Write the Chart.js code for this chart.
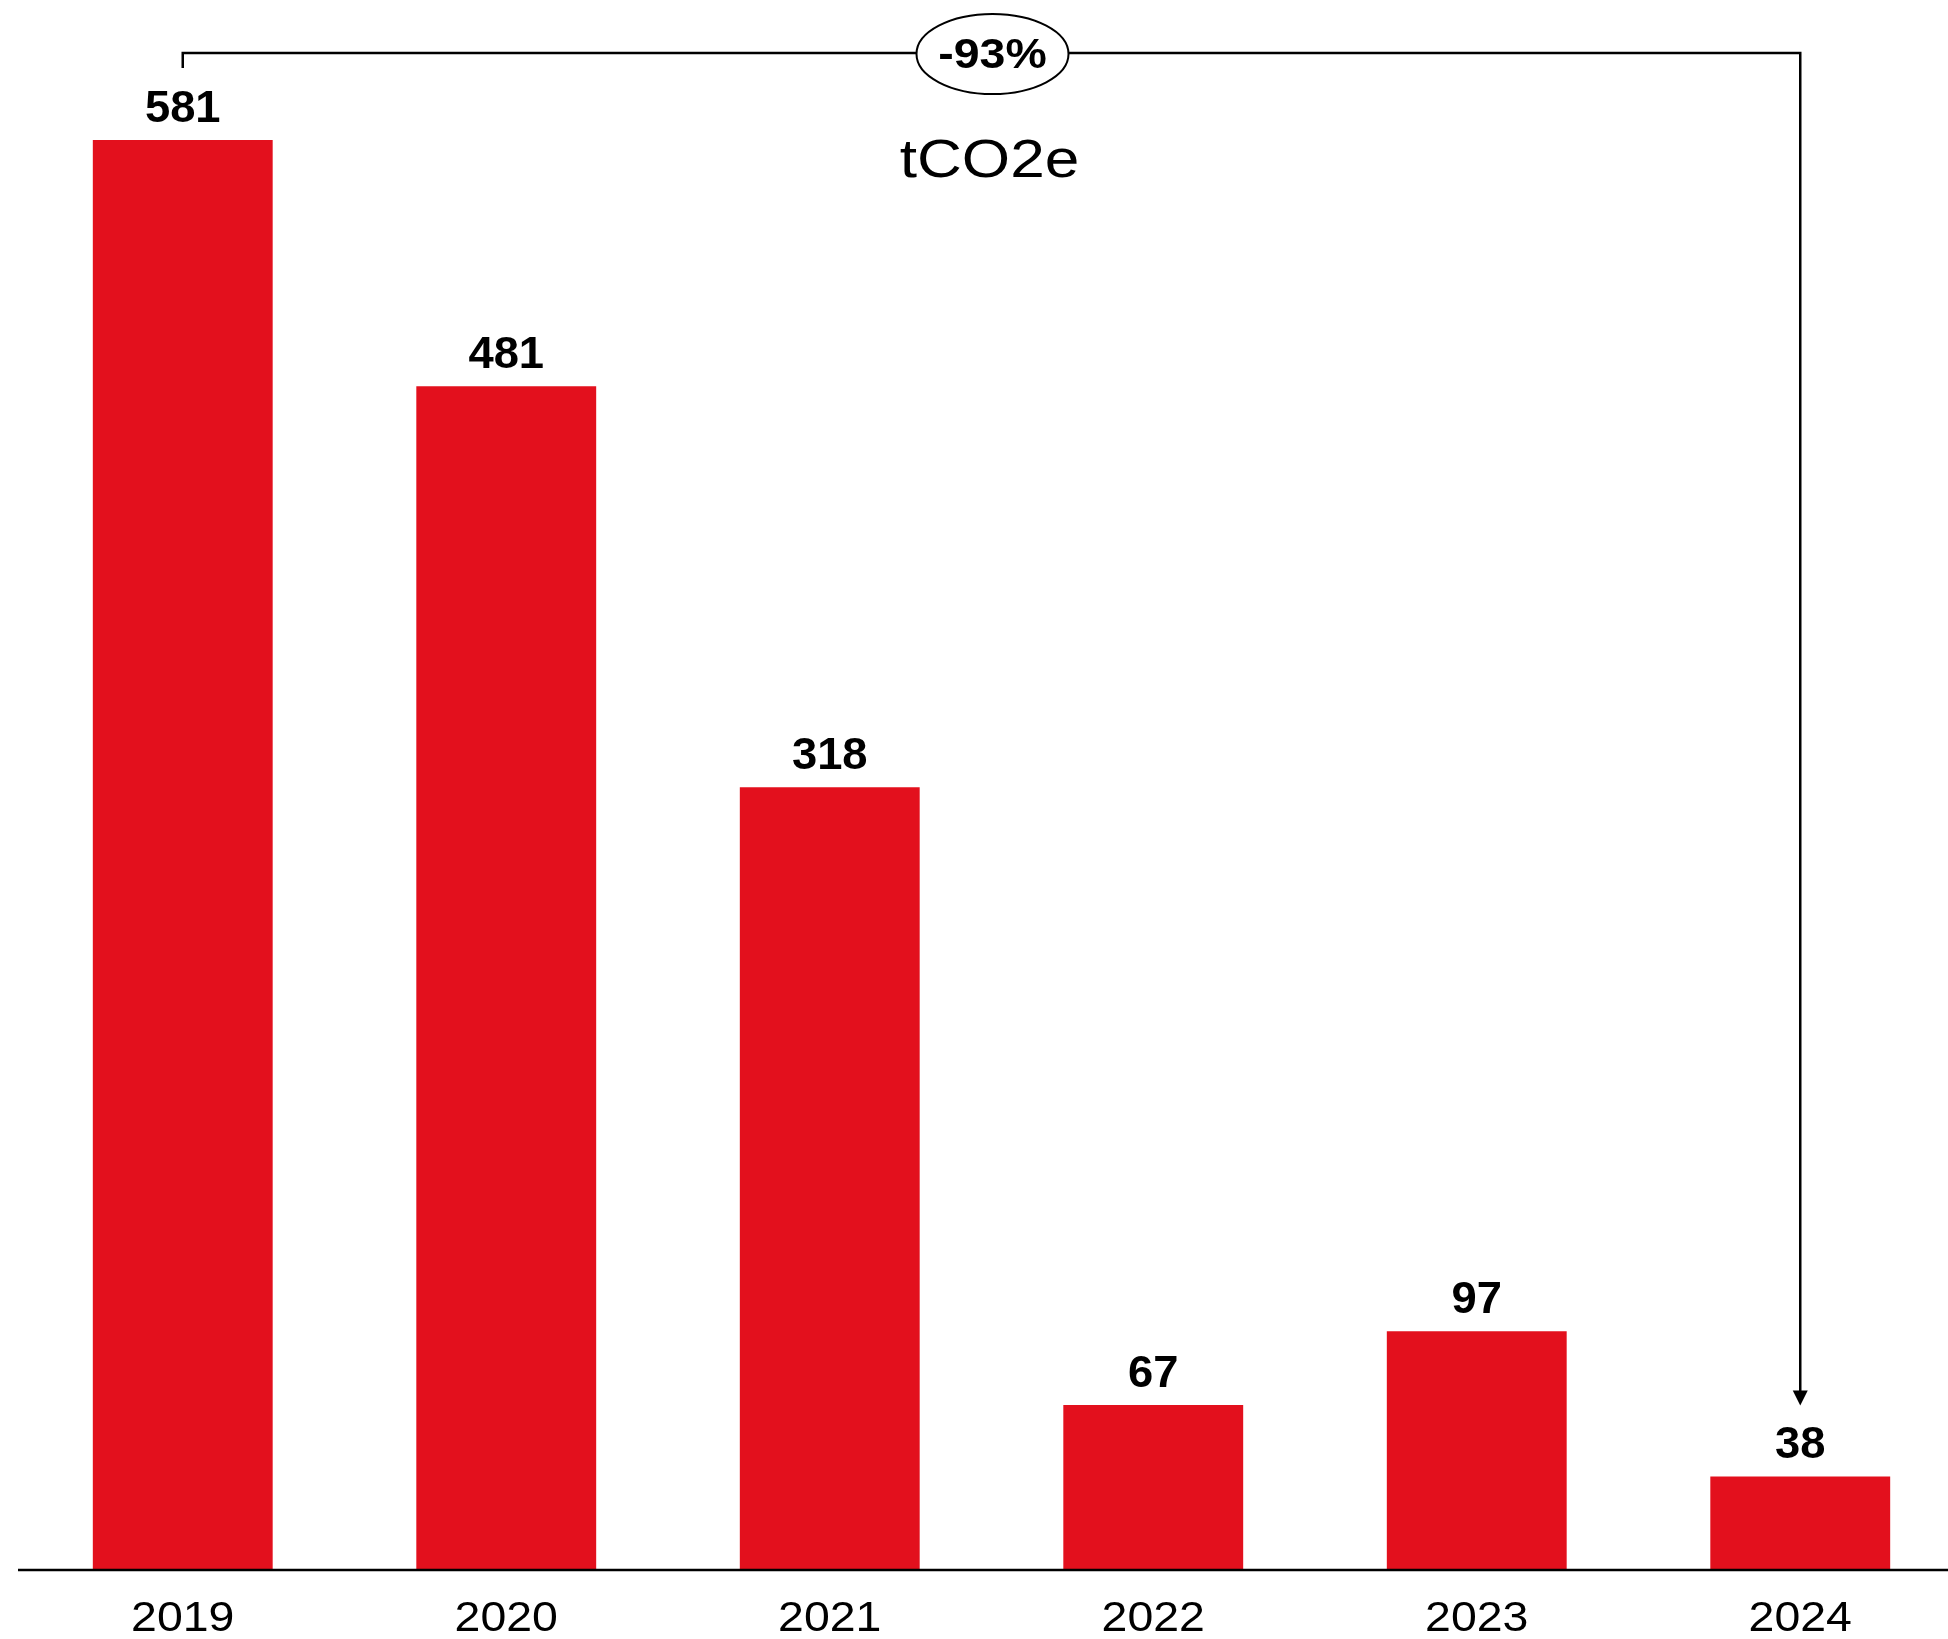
<!DOCTYPE html>
<html>
<head>
<meta charset="utf-8">
<script src="https://cdn.jsdelivr.net/npm/chart.js@4/dist/chart.umd.min.js"></script>
<style>
  html, body { margin: 0; padding: 0; background: #fff; overflow: hidden; }
  #wrap { position: relative; width: 1962px; height: 1639px; }
</style>
</head>
<body>
<div id="wrap"><canvas id="c" width="1962" height="1639"></canvas></div>
<script>
const categories = ["2019", "2020", "2021", "2022", "2023", "2024"];
const emissions = [581, 481, 318, 67, 97, 38];
const unitLabel = "tCO2e";
const changeLabel = "-93%";

const BAR_COLOR = "#E3101D";
const FONT = "'Liberation Sans', Arial, Helvetica, sans-serif";

// draw centered text, horizontally widened by factor sx
function wideText(ctx, text, x, y, sx) {
  ctx.save();
  ctx.translate(x, y);
  ctx.scale(sx, 1);
  ctx.textAlign = "center";
  ctx.fillText(text, 0, 0);
  ctx.restore();
}

const overlay = {
  id: "overlay",
  afterDatasetsDraw(chart) {
    const ctx = chart.ctx;
    const xs = chart.scales.x, ys = chart.scales.y;
    const area = chart.chartArea;
    const meta = chart.getDatasetMeta(0);

    // baseline
    const y0 = ys.getPixelForValue(0);
    ctx.save();
    ctx.strokeStyle = "#000";
    ctx.lineWidth = 2.5;
    ctx.beginPath();
    ctx.moveTo(18, y0);
    ctx.lineTo(chart.width, y0);
    ctx.stroke();

    ctx.fillStyle = "#000";
    ctx.textBaseline = "alphabetic";

    // category labels
    ctx.font = "43px " + FONT;
    xs.getLabels().forEach((lab, i) => {
      wideText(ctx, lab, xs.getPixelForTick(i), y0 + 61, 1.08);
    });

    // value labels
    ctx.font = "bold 44px " + FONT;
    meta.data.forEach((bar, i) => {
      wideText(ctx, String(emissions[i]), bar.x, bar.y - 18, 1.03);
    });

    // bracket with arrow
    const first = meta.data[0], last = meta.data[meta.data.length - 1];
    const topY = 53;
    const tipY = last.y - 71;
    ctx.lineWidth = 2.5;
    ctx.beginPath();
    ctx.moveTo(first.x, 68);
    ctx.lineTo(first.x, topY);
    ctx.lineTo(last.x, topY);
    ctx.lineTo(last.x, tipY - 14);
    ctx.stroke();
    ctx.beginPath();
    ctx.moveTo(last.x - 7.5, tipY - 15);
    ctx.lineTo(last.x + 7.5, tipY - 15);
    ctx.lineTo(last.x, tipY);
    ctx.closePath();
    ctx.fill();

    // ellipse with percentage
    const cx = (area.left + area.right) / 2 + 1;
    ctx.beginPath();
    ctx.ellipse(cx, topY + 1, 76, 40, 0, 0, Math.PI * 2);
    ctx.fillStyle = "#fff";
    ctx.fill();
    ctx.lineWidth = 2;
    ctx.strokeStyle = "#000";
    ctx.stroke();
    ctx.fillStyle = "#000";
    ctx.font = "bold 43px " + FONT;
    wideText(ctx, changeLabel, cx, 68, 1.08);

    // unit label
    ctx.font = "54px " + FONT;
    wideText(ctx, unitLabel, cx - 3, 177, 1.15);
    ctx.restore();
  }
};

new Chart(document.getElementById("c"), {
  type: "bar",
  data: {
    labels: categories,
    datasets: [{
      data: emissions,
      backgroundColor: BAR_COLOR,
      borderWidth: 0,
      barPercentage: 0.556,
      categoryPercentage: 1.0
    }]
  },
  options: {
    responsive: false,
    animation: false,
    devicePixelRatio: 1,
    layout: { padding: { top: 140, left: 21, right: 0, bottom: 0 } },
    plugins: { legend: { display: false }, tooltip: { enabled: false }, title: { display: false } },
    scales: {
      x: {
        grid: { display: false, drawTicks: false },
        border: { display: false },
        ticks: { display: false },
        afterFit(scale) { scale.height = 69; }
      },
      y: {
        display: false,
        min: 0,
        max: Math.max(...emissions)
      }
    }
  },
  plugins: [overlay]
});
</script>
</body>
</html>
